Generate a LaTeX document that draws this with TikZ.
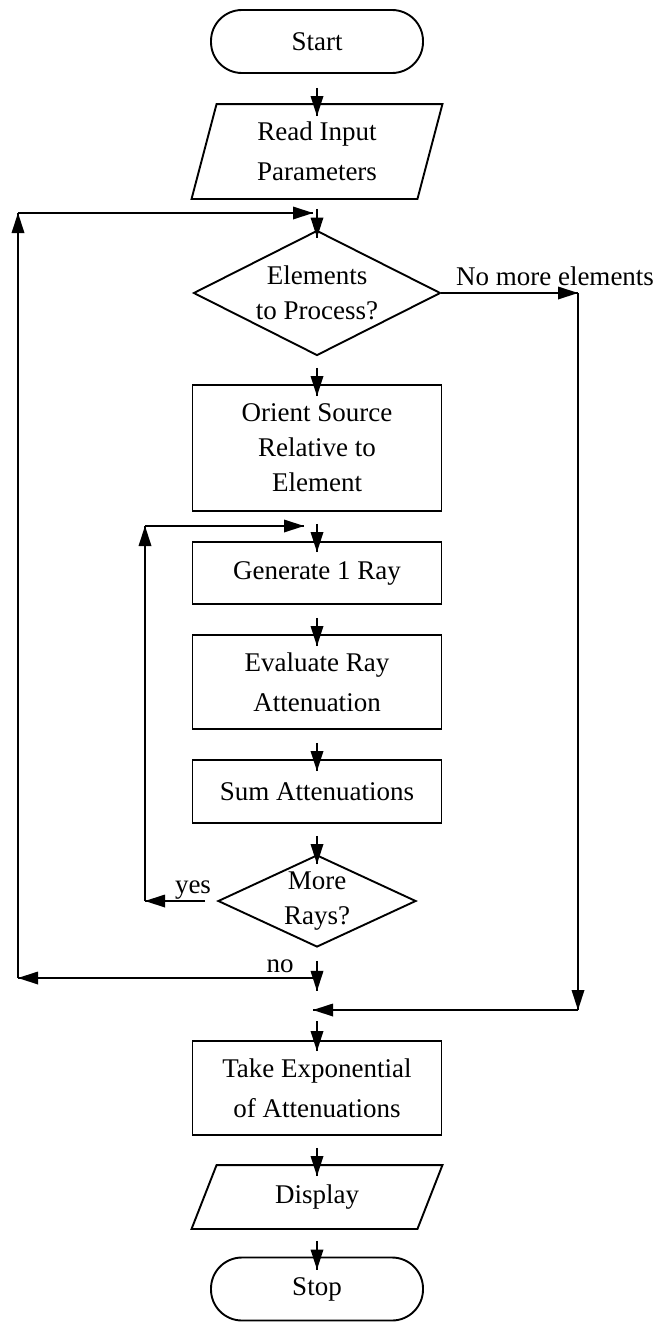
\documentclass[tikz,border=0pt]{standalone}
\usepackage{fontspec}
\setmainfont{Liberation Serif}
\usetikzlibrary{shapes.geometric}

\begin{document}
\begin{tikzpicture}[x=1pt,y=-1pt,line width=1.9pt]
    \tikzstyle{every node}+=[inner sep=0pt, align=center, font=\fontsize{27}{40}\selectfont]
    \tikzstyle{terminal}=[draw, rounded corners=31pt, minimum width=212pt, minimum height=63pt]
    \tikzstyle{process}=[draw, minimum width=249pt]
    \tikzstyle{io}=[minimum width=249pt]
    \tikzstyle{decision}=[draw, diamond, aspect=2, font=\fontsize{27}{35}\selectfont]
    \useasboundingbox (0,0) rectangle (657,1322);
    \node [terminal] (start) at (317,41.5) {Start};
    \node [io, minimum height=93pt] (read) at (317,151.5) {Read Input\\Parameters};
    \draw ([xshift=25pt]read.north west) -- (read.north east) -- ([xshift=-25pt]read.south east) -- (read.south west) -- cycle;
    \node [decision, minimum width=247pt, minimum height=125pt] (elem) at (317,293) {Elements\\to Process?};
    \node [process, minimum height=126pt, font=\fontsize{27}{35}\selectfont] (orient) at (317,448) {Orient Source\\Relative to\\Element};
    \node [process, minimum height=62pt] (gen) at (317,573) {Generate 1 Ray};
    \node [process, minimum height=94pt] (eval) at (317,682) {Evaluate Ray\\Attenuation};
    \node [process, minimum height=63pt] (sum) at (317,791.5) {Sum Attenuations};
    \node [decision, minimum width=198pt, minimum height=92pt] (rays) at (317,901) {More\\Rays?};
    \node [process, minimum height=94pt] (take) at (317,1088) {Take Exponential\\of Attenuations};
    \node [io, minimum height=62pt] (disp) at (317,1197) {Display};
    \draw ([xshift=25pt]disp.north west) -- (disp.north east) -- ([xshift=-25pt]disp.south east) -- (disp.south west) -- cycle;
    \node [terminal] (stop) at (317,1289) {Stop};
    \node [anchor=base] (nomore) at (555,285) {No more elements};
    \node [anchor=base] (yes) at (193,893) {yes};
    \node [anchor=base] (no) at (280,972) {no};
    \coordinate (nomid) at (317,978);
    \coordinate (noleft) at (18,978);
    \coordinate (loopleft) at (18,213);
    \coordinate (looptip) at (313,213);
    \coordinate (rayleft) at (145,901);
    \coordinate (raytop) at (145,526);
    \coordinate (raytip) at (304,526);
    \coordinate (exittip) at (578,293);
    \coordinate (exitbot) at (578,1010);
    \coordinate (jointip) at (313,1010);
    \draw ([yshift=-14pt]start.south) -- ([yshift=-12pt]read.north) coordinate (t1);
    \fill (t1) -- ++(-6.5,-20) -- ++(13,0) -- cycle;
    \draw ([yshift=-10pt]read.south) -- ([yshift=-8pt]elem.north) coordinate (t2);
    \fill (t2) -- ++(-6.5,-20) -- ++(13,0) -- cycle;
    \draw ([yshift=-11.5pt]elem.south) -- ([yshift=-12pt]orient.north) coordinate (t3);
    \fill (t3) -- ++(-6.5,-20) -- ++(13,0) -- cycle;
    \draw ([yshift=-12pt]orient.south) -- ([yshift=-11pt]gen.north) coordinate (t4);
    \fill (t4) -- ++(-6.5,-20) -- ++(13,0) -- cycle;
    \draw ([yshift=-13pt]gen.south) -- ([yshift=-12pt]eval.north) coordinate (t5);
    \fill (t5) -- ++(-6.5,-20) -- ++(13,0) -- cycle;
    \draw ([yshift=-13pt]eval.south) -- ([yshift=-12pt]sum.north) coordinate (t6);
    \fill (t6) -- ++(-6.5,-20) -- ++(13,0) -- cycle;
    \draw ([yshift=-12pt]sum.south) -- ([yshift=-10pt]rays.north) coordinate (t7);
    \fill (t7) -- ++(-6.5,-20) -- ++(13,0) -- cycle;
    \draw ([yshift=-13pt]rays.south) -- ([yshift=-43pt]rays.south) coordinate (t8);
    \fill (t8) -- ++(-6.5,-20) -- ++(13,0) -- cycle;
    \draw ([yshift=19pt]take.north) -- ([yshift=-11pt]take.north) coordinate (t9);
    \fill (t9) -- ++(-6.5,-20) -- ++(13,0) -- cycle;
    \draw ([yshift=-12pt]take.south) -- ([yshift=-11pt]disp.north) coordinate (t10);
    \fill (t10) -- ++(-6.5,-20) -- ++(13,0) -- cycle;
    \draw ([yshift=-12pt]disp.south) -- ([yshift=-13pt]stop.north) coordinate (t11);
    \fill (t11) -- ++(-6.5,-20) -- ++(13,0) -- cycle;
    % outer loop (no)
    \draw (nomid) -- (noleft);
    \fill (noleft) -- ++(20,-6.5) -- ++(0,13) -- cycle;
    \draw (noleft) -- (loopleft);
    \fill (loopleft) -- ++(-6.5,20) -- ++(13,0) -- cycle;
    \draw (loopleft) -- (looptip);
    \fill (looptip) -- ++(-20,-6.5) -- ++(0,13) -- cycle;
    % inner loop (yes)
    \draw ([xshift=-12pt]rays.west) -- (rayleft);
    \fill (rayleft) -- ++(20,-6.5) -- ++(0,13) -- cycle;
    \draw (rayleft) -- (raytop);
    \fill (raytop) -- ++(-6.5,20) -- ++(13,0) -- cycle;
    \draw (raytop) -- (raytip);
    \fill (raytip) -- ++(-20,-6.5) -- ++(0,13) -- cycle;
    % exit (no more elements)
    \draw (elem.east) -- (exittip);
    \fill (exittip) -- ++(-20,-6.5) -- ++(0,13) -- cycle;
    \draw (exittip) -- (exitbot);
    \fill (exitbot) -- ++(-6.5,-20) -- ++(13,0) -- cycle;
    \draw (exitbot) -- (jointip);
    \fill (jointip) -- ++(20,-6.5) -- ++(0,13) -- cycle;
\end{tikzpicture}
\end{document}
